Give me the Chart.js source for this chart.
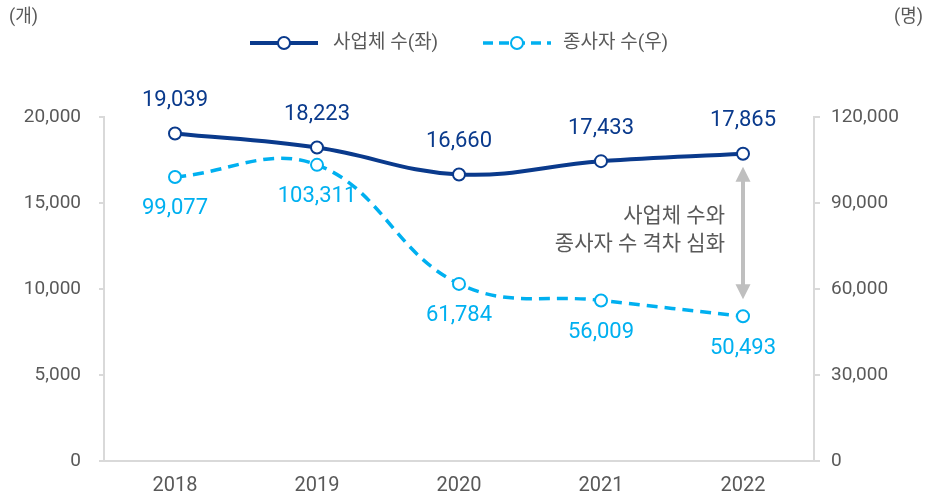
<!DOCTYPE html>
<html>
<head>
<meta charset="utf-8">
<script src="https://cdn.jsdelivr.net/npm/chart.js@4/dist/chart.umd.min.js"></script>
<style>
  html, body { margin: 0; padding: 0; background: #fff; }
  #wrap { width: 935px; height: 496px; position: relative; }
</style>
</head>
<body>
<div id="wrap"><canvas id="chart"></canvas></div>
<script>
// chart data
const years = ['2018', '2019', '2020', '2021', '2022'];
const businesses = [19039, 18223, 16660, 17433, 17865];
const employees = [99077, 103311, 61784, 56009, 50493];
const leftTicks = [0, 5000, 10000, 15000, 20000];
const rightTicks = [0, 30000, 60000, 90000, 120000];

const NAVY = '#0a3a8c';
const CYAN = '#00b0f0';
const GREY_TEXT = '#595959';
const AXIS = '#d9d9d9';
const FONT = "Roboto, 'Noto Sans CJK KR', sans-serif";

const fmt = v => v.toLocaleString('en-US');

// value labels, legend, unit labels and the gap annotation
const extras = {
    id: 'extras',
    afterDatasetsDraw(chart) {
        const ctx = chart.ctx;
        const x = chart.scales.x;
        const yl = chart.scales.yl;
        const yr = chart.scales.yr;

        ctx.save();
        ctx.textAlign = 'center';
        ctx.textBaseline = 'middle';

        // gap arrow at the last year
        const ax = x.getPixelForValue(years.length - 1);
        const top = yl.getPixelForValue(businesses[businesses.length - 1]) + 13;
        const bot = yr.getPixelForValue(employees[employees.length - 1]) - 17;
        ctx.fillStyle = '#bfbfbf';
        ctx.strokeStyle = '#bfbfbf';
        ctx.lineWidth = 4;
        ctx.beginPath();
        ctx.moveTo(ax, top + 12);
        ctx.lineTo(ax, bot - 12);
        ctx.stroke();
        ctx.beginPath();
        ctx.moveTo(ax, top);
        ctx.lineTo(ax - 7.5, top + 15);
        ctx.lineTo(ax + 7.5, top + 15);
        ctx.closePath();
        ctx.fill();
        ctx.beginPath();
        ctx.moveTo(ax, bot);
        ctx.lineTo(ax - 7.5, bot - 15);
        ctx.lineTo(ax + 7.5, bot - 15);
        ctx.closePath();
        ctx.fill();

        ctx.fillStyle = GREY_TEXT;
        ctx.textAlign = 'right';
        ctx.font = '21px ' + FONT;
        ctx.fillText('사업체 수와', ax - 18, 217);
        ctx.fillText('종사자 수 격차 심화', ax - 18, 245);

        // value labels
        ctx.textAlign = 'center';
        ctx.font = '22px ' + FONT;
        businesses.forEach((v, i) => {
            ctx.fillStyle = NAVY;
            ctx.fillText(fmt(v), x.getPixelForValue(i), yl.getPixelForValue(v) - 33);
        });
        employees.forEach((v, i) => {
            ctx.fillStyle = CYAN;
            ctx.fillText(fmt(v), x.getPixelForValue(i), yr.getPixelForValue(v) + 32);
        });

        // unit labels
        ctx.fillStyle = GREY_TEXT;
        ctx.font = '18px ' + FONT;
        ctx.textAlign = 'left';
        ctx.fillText('(개)', 9, 17);
        ctx.textAlign = 'right';
        ctx.fillText('(명)', 923, 17);

        // legend
        const ly = 43;
        ctx.font = '19px ' + FONT;
        ctx.textAlign = 'left';
        ctx.lineWidth = 4;
        ctx.strokeStyle = NAVY;
        ctx.beginPath();
        ctx.moveTo(250, ly);
        ctx.lineTo(318, ly);
        ctx.stroke();
        ctx.fillStyle = '#fff';
        ctx.lineWidth = 2;
        ctx.beginPath();
        ctx.arc(284, ly, 6, 0, Math.PI * 2);
        ctx.fill();
        ctx.stroke();
        ctx.fillStyle = GREY_TEXT;
        ctx.fillText('사업체 수(좌)', 333, ly);

        ctx.strokeStyle = CYAN;
        ctx.lineWidth = 3.5;
        ctx.setLineDash([10, 6]);
        ctx.beginPath();
        ctx.moveTo(483, ly);
        ctx.lineTo(551, ly);
        ctx.stroke();
        ctx.setLineDash([]);
        ctx.fillStyle = '#fff';
        ctx.lineWidth = 2;
        ctx.beginPath();
        ctx.arc(517, ly, 6, 0, Math.PI * 2);
        ctx.fill();
        ctx.stroke();
        ctx.fillStyle = GREY_TEXT;
        ctx.fillText('종사자 수(우)', 563, ly);

        ctx.restore();
    }
};

new Chart(document.getElementById('chart'), {
    type: 'line',
    data: {
        labels: years,
        datasets: [
            {
                label: '사업체 수(좌)',
                data: businesses,
                yAxisID: 'yl',
                borderColor: NAVY,
                borderWidth: 4,
                tension: 0.4,
                pointRadius: 6,
                pointBorderWidth: 2,
                pointBackgroundColor: '#fff',
                pointBorderColor: NAVY
            },
            {
                label: '종사자 수(우)',
                data: employees,
                yAxisID: 'yr',
                borderColor: CYAN,
                borderWidth: 3.5,
                borderDash: [11, 7],
                tension: 0.4,
                pointRadius: 6,
                pointBorderWidth: 2,
                pointBackgroundColor: '#fff',
                pointBorderColor: CYAN
            }
        ]
    },
    options: {
        responsive: true,
        maintainAspectRatio: false,
        animation: false,
        layout: {
            padding: { top: 117, left: 0, right: 0, bottom: 0 }
        },
        plugins: {
            legend: { display: false },
            tooltip: { enabled: false }
        },
        scales: {
            x: {
                offset: true,
                grid: { display: false, drawTicks: false },
                border: { display: true, color: AXIS, width: 2 },
                ticks: {
                    color: GREY_TEXT,
                    padding: 13,
                    font: { family: FONT, size: 20 }
                },
                afterFit: s => { s.height = 35; }
            },
            yl: {
                position: 'left',
                min: 0,
                max: 20000,
                afterBuildTicks: s => { s.ticks = leftTicks.map(v => ({ value: v })); },
                grid: { drawOnChartArea: false, color: AXIS, tickLength: 5, lineWidth: 2 },
                border: { color: AXIS, width: 2 },
                ticks: {
                    color: GREY_TEXT,
                    padding: 18,
                    font: { family: FONT, size: 19 },
                    callback: v => fmt(v)
                },
                afterFit: s => { s.width = 104; }
            },
            yr: {
                position: 'right',
                min: 0,
                max: 120000,
                afterBuildTicks: s => { s.ticks = rightTicks.map(v => ({ value: v })); },
                grid: { drawOnChartArea: false, color: AXIS, tickLength: 6, lineWidth: 2 },
                border: { color: AXIS, width: 2 },
                ticks: {
                    color: GREY_TEXT,
                    padding: 11,
                    font: { family: FONT, size: 19 },
                    callback: v => fmt(v)
                },
                afterFit: s => { s.width = 121; }
            }
        }
    },
    plugins: [extras]
});
</script>
</body>
</html>
